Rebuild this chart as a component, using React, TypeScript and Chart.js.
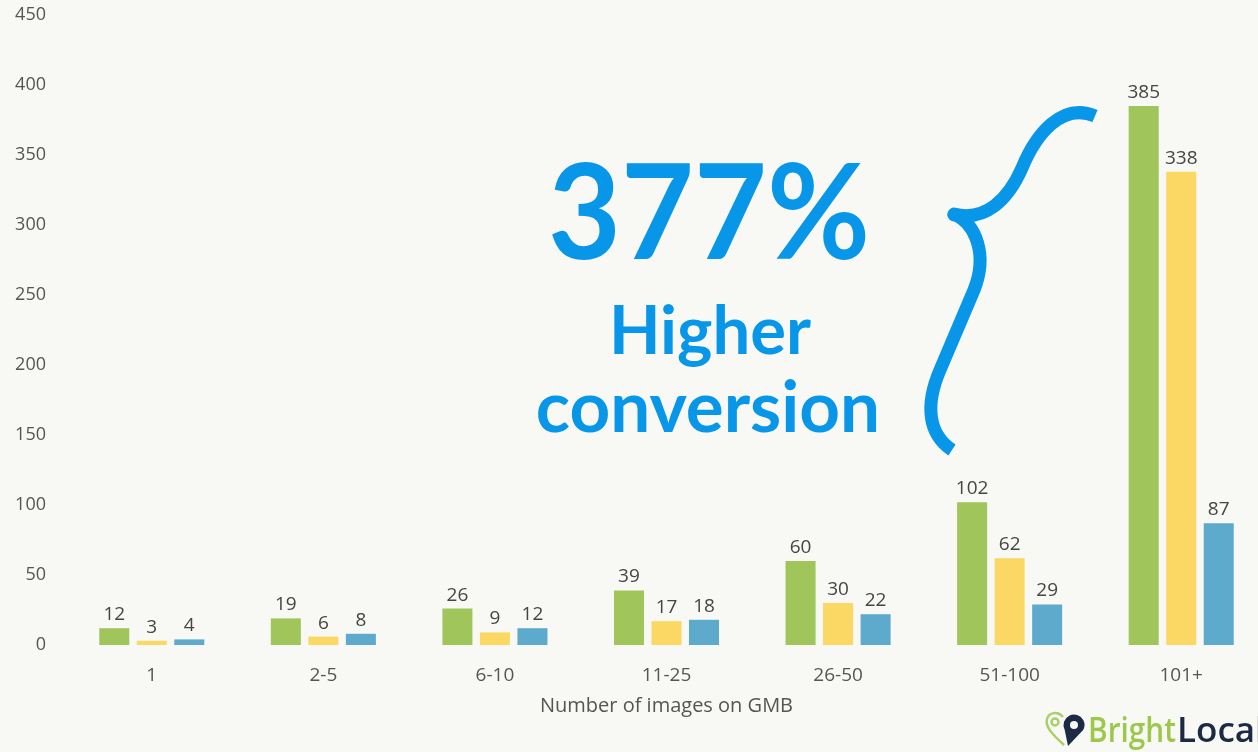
import React, { useEffect, useRef } from "react";
import { Chart, registerables } from "chart.js";

Chart.register(...registerables);

const categories = ["1", "2-5", "6-10", "11-25", "26-50", "51-100", "101+"];
const seriesGreen = [12, 19, 26, 39, 60, 102, 385];
const seriesYellow = [3, 6, 9, 17, 30, 62, 338];
const seriesBlue = [4, 8, 12, 18, 22, 29, 87];
const yMax = 450;
const yStep = 50;
const xTitle = "Number of images on GMB";
const bigText = "377%";
const subText1 = "Higher";
const subText2 = "conversion";

const BG = "#f8f8f4";
const ACCENT = "#0796e8";
const FONT = "'Open Sans', 'Liberation Sans', sans-serif";

const valueLabels = {
  id: "valueLabels",
  afterDatasetsDraw(chart: any) {
    const ctx = chart.ctx;
    ctx.save();
    ctx.font = `19px ${FONT}`;
    ctx.fillStyle = "#454545";
    ctx.textAlign = "center";
    ctx.textBaseline = "alphabetic";
    chart.data.datasets.forEach((ds: any, i: number) => {
      const meta = chart.getDatasetMeta(i);
      meta.data.forEach((bar: any, j: number) => {
        ctx.fillText(String(ds.data[j]), bar.x, bar.y - 8);
      });
    });
    ctx.restore();
  },
};

const annotations = {
  id: "annotations",
  afterDraw(chart: any) {
    const ctx = chart.ctx;
    const y = chart.scales.y;
    ctx.save();
    ctx.fillStyle = ACCENT;
    ctx.textAlign = "center";
    ctx.textBaseline = "alphabetic";
    ctx.font = `bold 132px 'Lato', ${FONT}`;
    ctx.fillText(bigText, 709, y.getPixelForValue(276), 322);
    ctx.font = `bold 67px 'Lato', ${FONT}`;
    ctx.fillText(subText1, 710, y.getPixelForValue(208), 206);
    ctx.font = `bold 71px 'Lato', ${FONT}`;
    ctx.fillText(subText2, 708, y.getPixelForValue(152), 350);

    // curly brace
    ctx.strokeStyle = ACCENT;
    ctx.lineWidth = 13;
    ctx.lineCap = "butt";
    ctx.lineJoin = "round";
    ctx.beginPath();
    ctx.moveTo(1095, 116);
    ctx.bezierCurveTo(1062, 102, 1036, 134, 1022, 168);
    ctx.bezierCurveTo(1008, 200, 985, 222, 954, 214);
    ctx.bezierCurveTo(976, 224, 988, 255, 974, 290);
    ctx.lineTo(940, 370);
    ctx.bezierCurveTo(925, 405, 928, 434, 952, 450);
    ctx.stroke();
    ctx.beginPath();
    ctx.fillStyle = ACCENT;
    ctx.arc(954, 215, 6.5, 0, Math.PI * 2);
    ctx.fill();

    // logo
    ctx.strokeStyle = "#a8cf6a";
    ctx.lineWidth = 2.5;
    ctx.beginPath();
    ctx.moveTo(1064, 745);
    ctx.bezierCurveTo(1052, 734, 1045, 727, 1047, 719);
    ctx.bezierCurveTo(1049, 712, 1058, 711, 1063, 717);
    ctx.stroke();
    ctx.beginPath();
    ctx.arc(1055, 722, 3.5, 0, Math.PI * 2);
    ctx.stroke();
    ctx.fillStyle = "#1d2a44";
    ctx.beginPath();
    ctx.arc(1074, 725, 10.5, Math.PI * 0.85, Math.PI * 2.15);
    ctx.lineTo(1068, 746);
    ctx.closePath();
    ctx.fill();
    ctx.fillStyle = BG;
    ctx.beginPath();
    ctx.arc(1074, 725, 4, 0, Math.PI * 2);
    ctx.fill();
    ctx.textAlign = "left";
    ctx.font = `600 35px ${FONT}`;
    ctx.fillStyle = "#9cc84b";
    ctx.fillText("Bright", 1088, 742, 88);
    ctx.fillStyle = "#1d2a44";
    ctx.fillText("Local", 1177, 742);
    ctx.restore();
  },
};

export default function App() {
  const ref = useRef<HTMLCanvasElement | null>(null);
  useEffect(() => {
    if (!ref.current) return;
    const chart = new Chart(ref.current, {
      type: "bar",
      data: {
        labels: categories,
        datasets: [
          { label: "Series A", data: seriesGreen, backgroundColor: "#9fc55b" },
          { label: "Series B", data: seriesYellow, backgroundColor: "#fbd864" },
          { label: "Series C", data: seriesBlue, backgroundColor: "#5eaacd" },
        ],
      },
      options: {
        responsive: false,
        animation: false,
        layout: { padding: { left: 6, right: 13, top: 15, bottom: 27 } },
        plugins: {
          legend: { display: false },
          tooltip: { enabled: false },
        },
        datasets: { bar: { categoryPercentage: 0.656, barPercentage: 0.8 } },
        scales: {
          x: {
            grid: { display: false, drawTicks: false },
            border: { display: false },
            ticks: { color: "#555", font: { size: 19, family: FONT }, padding: 19 },
            title: {
              display: true,
              text: xTitle,
              color: "#555",
              font: { size: 20, family: FONT },
              padding: { top: 0, bottom: 7 },
            },
            afterFit: (s: any) => {
              s.height = 80;
            },
          },
          y: {
            min: 0,
            max: yMax,
            grid: { display: false, drawTicks: false },
            border: { display: false },
            ticks: { stepSize: yStep, color: "#555", font: { size: 18, family: FONT }, padding: 20 },
            afterFit: (s: any) => {
              s.width = 60;
              s.paddingTop = 0;
              s.paddingBottom = 0;
            },
          },
        },
      },
      plugins: [valueLabels, annotations],
    });
    return () => chart.destroy();
  }, []);
  return (
    <div
      style={{
        position: "absolute",
        left: 0,
        top: 0,
        width: 1258,
        height: 752,
        overflow: "hidden",
        background: BG,
      }}
    >
      <canvas ref={ref} width={1280} height={752} style={{ width: 1280, height: 752, display: "block" }} />
    </div>
  );
}
